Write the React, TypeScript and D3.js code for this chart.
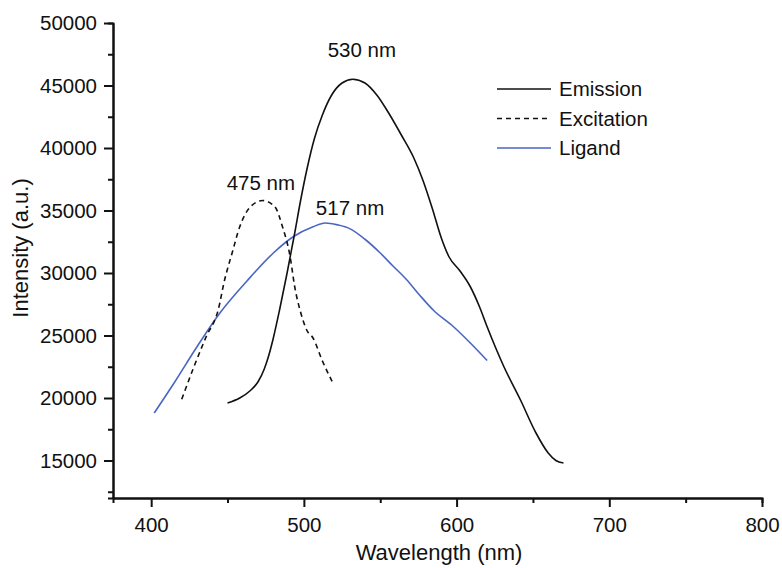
import React, { useEffect, useRef } from "react";
import * as d3 from "d3";

// Emission spectrum [wavelength nm, intensity]
const emission: [number, number][] = [
    [450, 19600], [458, 20000], [465, 20600], [470, 21300], [474, 22300], [477, 23400],
    [480, 24800], [484, 27000], [489, 30000], [494, 33200], [498, 35900], [502, 38300],
    [507, 40800], [512, 42600], [518, 44200], [525, 45200], [532, 45500], [540, 45200],
    [548, 44200], [556, 42700], [564, 41000], [572, 39200], [578, 37400], [584, 35200],
    [590, 32800], [595, 31300], [602, 30200], [609, 28900], [615, 27300], [620, 25700],
    [631, 22500], [642, 19800], [652, 17200], [660, 15600], [665, 15000], [670, 14800],
];

// Excitation spectrum
const excitation: [number, number][] = [
    [420, 19900], [428, 22500], [436, 24900], [444, 27100], [448, 29400], [453, 31600],
    [458, 33700], [465, 35300], [473, 35800], [481, 35300], [486, 33700], [491, 31300],
    [494, 28900], [498, 26800], [502, 25400], [506, 24800], [512, 23000], [519, 21200],
];

// Ligand spectrum
const ligand: [number, number][] = [
    [402, 18800], [415, 21200], [430, 24100], [445, 26800], [463, 29400], [480, 31600],
    [493, 32900], [506, 33700], [514, 34000], [522, 33850], [530, 33550], [540, 32700],
    [550, 31600], [558, 30600], [567, 29500], [576, 28200], [585, 27000], [598, 25700],
    [609, 24400], [620, 23000],
];

const xMajor = [400, 500, 600, 700, 800];
const xMinor = [450, 550, 650, 750];
const yMajor = [15000, 20000, 25000, 30000, 35000, 40000, 45000, 50000];
const yMinor = [12500, 17500, 22500, 27500, 32500, 37500, 42500, 47500];

const legendItems = [
    { label: "Emission", color: "#111", dash: "none" },
    { label: "Excitation", color: "#111", dash: "5,4" },
    { label: "Ligand", color: "#4a66c4", dash: "none" },
];

const peaks = [
    { label: "530 nm", wl: 530, value: 45500, dx: -22, dy: -22 },
    { label: "475 nm", wl: 475, value: 35800, dx: -39, dy: -11 },
    { label: "517 nm", wl: 517, value: 34000, dx: -14, dy: -8 },
];

const W = 782;
const H = 568;
const FONT = "'Liberation Sans', Arial, Helvetica, sans-serif";

const x = d3.scaleLinear().domain([375, 800]).range([113, 762]);
const y = d3.scaleLinear().domain([12000, 50000]).range([498, 23]);

const line = d3
    .line<[number, number]>()
    .x((d) => x(d[0]))
    .y((d) => y(d[1]))
    .curve(d3.curveMonotoneX);

export default function App() {
    const xRef = useRef<SVGGElement>(null);
    const yRef = useRef<SVGGElement>(null);

    useEffect(() => {
        const gx = d3.select(xRef.current);
        gx.selectAll("*").remove();
        gx.append("g").call(d3.axisBottom(x).tickValues(xMinor).tickSize(5).tickFormat(() => ""));
        gx.append("g").call(
            d3.axisBottom(x).tickValues(xMajor).tickSize(9).tickPadding(10).tickSizeOuter(0).tickFormat(d3.format("d"))
        );
        const gy = d3.select(yRef.current);
        gy.selectAll("*").remove();
        gy.append("g").call(d3.axisLeft(y).tickValues(yMinor).tickSize(5).tickFormat(() => ""));
        gy.append("g").call(
            d3.axisLeft(y).tickValues(yMajor).tickSize(9).tickPadding(7).tickSizeOuter(0).tickFormat(d3.format("d"))
        );
        [gx, gy].forEach((g) => {
            g.selectAll("path.domain").attr("stroke", "#111").attr("stroke-width", 2);
            g.selectAll(".tick line").attr("stroke", "#111").attr("stroke-width", 2);
            g.selectAll(".tick text").attr("fill", "#111").style("font-size", "20.5px").style("font-family", FONT);
        });
    }, []);

    return (
        <svg width={W} height={H} style={{ position: "absolute", left: 0, top: 0, background: "#fff" }}>
            <g ref={xRef} transform={`translate(0,${y.range()[0]})`} />
            <g ref={yRef} transform={`translate(${x.range()[0]},0)`} />

            <path d={line(ligand) ?? ""} fill="none" stroke="#4a66c4" strokeWidth={1.6} />
            <path d={line(excitation) ?? ""} fill="none" stroke="#111" strokeWidth={1.6} strokeDasharray="5,4" />
            <path d={line(emission) ?? ""} fill="none" stroke="#111" strokeWidth={1.6} />

            {peaks.map((p) => (
                <text key={p.label} x={x(p.wl) + p.dx} y={y(p.value) + p.dy} fontSize={20.5} fontFamily={FONT} fill="#111">
                    {p.label}
                </text>
            ))}

            {legendItems.map((item, i) => (
                <g key={item.label} transform={`translate(497,${89 + i * 29.5})`}>
                    <line x1={0} x2={54} y1={0} y2={0} stroke={item.color} strokeWidth={1.6} strokeDasharray={item.dash} />
                    <text x={62} y={7} fontSize={20.5} fontFamily={FONT} fill="#111">
                        {item.label}
                    </text>
                </g>
            ))}

            <text x={439} y={560} textAnchor="middle" fontSize={22} fontFamily={FONT} fill="#111">
                Wavelength (nm)
            </text>
            <text transform="translate(28,248) rotate(-90)" textAnchor="middle" fontSize={22} fontFamily={FONT} fill="#111">
                Intensity (a.u.)
            </text>
        </svg>
    );
}
